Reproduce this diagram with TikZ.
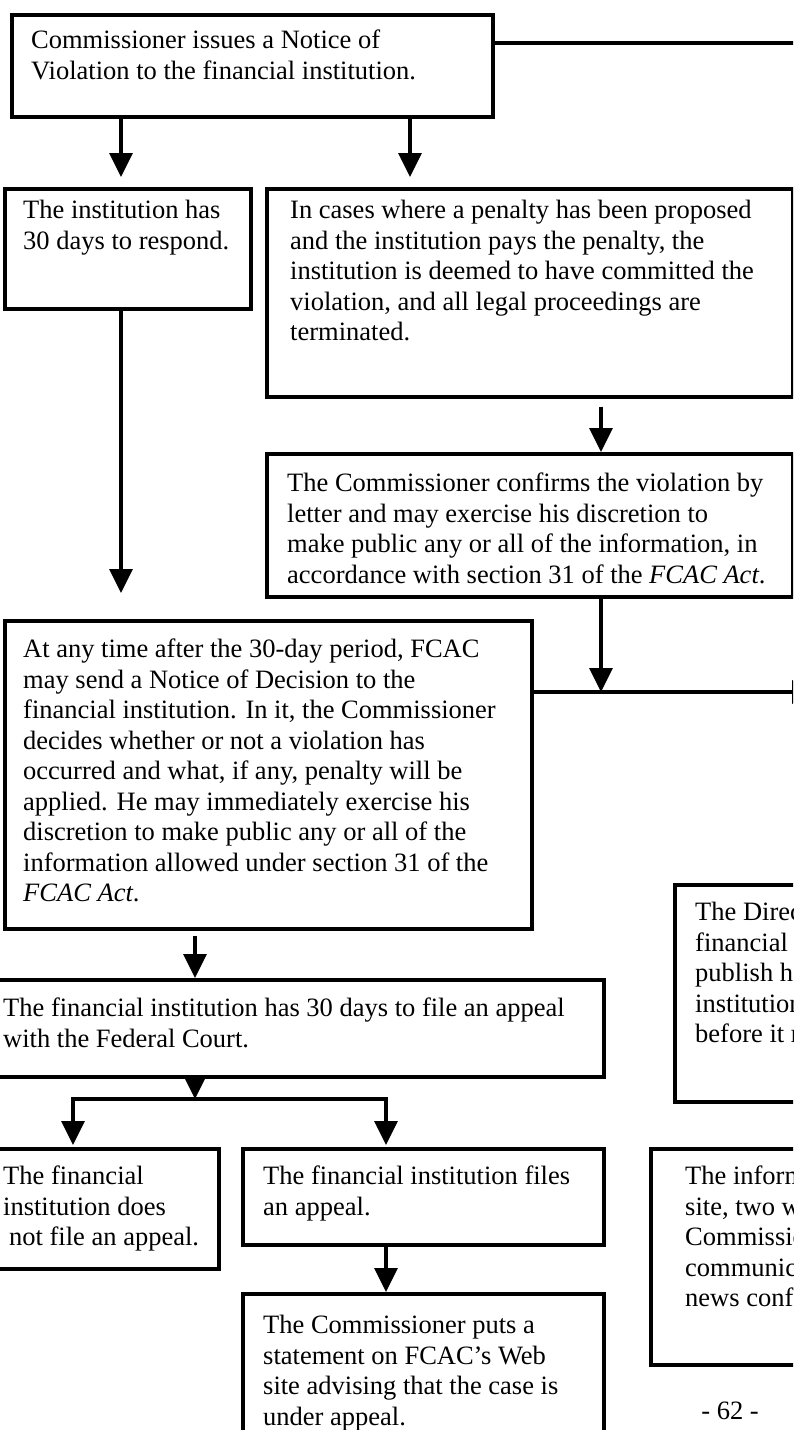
\documentclass[tikz,border=0pt]{standalone}
\usepackage{fontspec}
\setmainfont{Liberation Serif}
\usetikzlibrary{arrows.meta}
\newcommand\flowfont{\fontsize{26.5}{30.5}\selectfont}
\begin{document}
\begin{tikzpicture}[x=1pt,y=-1pt,
  box/.style={draw, line width=3.5pt, inner sep=0, anchor=north west},
  txt/.style={anchor=north west, inner sep=0, align=left, font=\flowfont,
    execute at begin node={\rule{0pt}{20pt}}},
  arr/.style={line width=3.2pt, -{Triangle[length=24pt,width=23pt]}},
  link/.style={line width=3.2pt}]
\useasboundingbox (0,0) rectangle (793,1430);
\clip (0,0) rectangle (793,1430);

% boxes
\node[box, minimum width=481pt, minimum height=102pt] (A) at (10,13) {};
\node[box, minimum width=246pt, minimum height=120pt] (B) at (3,187) {};
\node[box, minimum width=526pt, minimum height=208pt] (C) at (265,187) {};
\node[box, minimum width=526pt, minimum height=143pt] (D) at (265,452) {};
\node[box, minimum width=527pt, minimum height=308pt] (E) at (3,619) {};
\node[box, minimum width=612pt, minimum height=97pt]  (F) at (-10,978) {};
\node[box, minimum width=227pt, minimum height=120pt] (G) at (-10,1147) {};
\node[box, minimum width=361pt, minimum height=96pt]  (H) at (241,1147) {};
\node[box, minimum width=361pt, minimum height=168pt] (I) at (241,1292) {};
\node[box, minimum width=157pt, minimum height=217pt] (J) at (673,883) {};
\node[box, minimum width=181pt, minimum height=216pt] (K) at (649,1147) {};

% texts
\node[txt] (tA) at (31,30) {Commissioner issues a Notice of\\Violation to the financial institution.};
\node[txt] (tB) at (23,200) {The institution has\\30 days to respond.};
\node[txt] (tC) at (290,200) {In cases where a penalty has been proposed\\and the institution pays the penalty, the\\institution is deemed to have committed the\\violation, and all legal proceedings are\\terminated.};
\node[txt] (tD) at (287,473) {The Commissioner confirms the violation by\\letter and may exercise his discretion to\\make public any or all of the information, in\\accordance with section 31 of the \textit{FCAC Act}.};
\node[txt] (tE) at (23,639) {At any time after the 30-day period, FCAC\\may send a Notice of Decision to the\\financial institution. In it, the Commissioner\\decides whether or not a violation has\\occurred and what, if any, penalty will be\\applied. He may immediately exercise his\\discretion to make public any or all of the\\information allowed under section 31 of the\\\textit{FCAC Act}.};
\node[txt] (tF) at (3,998) {The financial institution has 30 days to file an appeal\\with the Federal Court.};
\node[txt] (tG) at (3,1166) {The financial\\institution does\\\hspace*{6pt}not file an appeal.};
\node[txt] (tH) at (263,1166) {The financial institution files\\an appeal.};
\node[txt] (tI) at (263,1315) {The Commissioner puts a\\statement on FCAC’s Web\\site advising that the case is\\under appeal.};
\node[txt] (tJ) at (695,902) {The Direc\\financial\\publish h\\institution\\before it r};
\node[txt] (tK) at (685,1166) {The inform\\site, two w\\Commissio\\communic\\news conf};
\node[font=\flowfont, anchor=base, inner sep=0] (pg) at (730,1419) {- 62 -};

% connector columns and joints
\coordinate (xL) at (121,0);
\coordinate (xM) at (410,0);
\coordinate (xR) at (601,0);
\coordinate (xE) at (195,0);
\coordinate (xG) at (73,0);
\coordinate (xH) at (386,0);
\coordinate (topline) at (800,43);
\coordinate (junc) at (601,692);
\coordinate (jend) at (816,692);
\coordinate (split) at (195,1099);

% connectors
\draw[link] (A.east |- topline) -- (topline);
\draw[arr, shorten >=10pt] (A.south -| xL) -- (B.north -| xL);
\draw[arr, shorten >=10pt] (A.south -| xM) -- (C.north -| xM);
\draw[arr, shorten <=8pt] (C.south -| xR) -- (D.north -| xR);
\draw[arr] (D.south -| xR) -- (junc);
\draw[arr] (E.east |- junc) -- (jend);
\draw[arr, shorten >=26pt] (B.south -| xL) -- (E.north -| xL);
\draw[arr, shorten <=5pt] (E.south -| xE) -- (F.north -| xE);
\draw[arr] (F.south -| xE) -- (split);
\draw[line width=3.2pt, {Triangle[length=24pt,width=23pt]}-{Triangle[length=24pt,width=23pt]},
  shorten <=2pt, shorten >=2pt]
  (G.north -| xG) -- (split -| xG) -- (split -| xH) -- (H.north -| xH);
\draw[arr] (H.south -| xH) -- (I.north -| xH);
\end{tikzpicture}
\end{document}
